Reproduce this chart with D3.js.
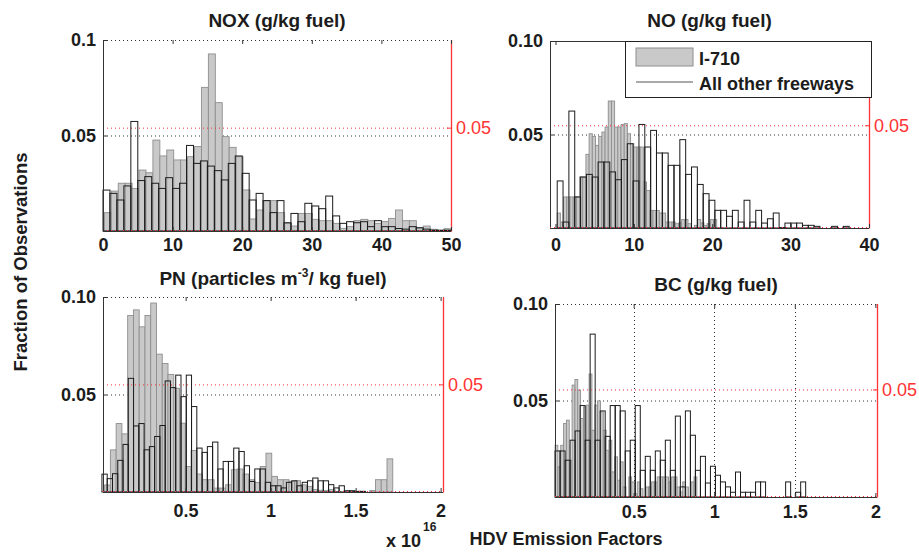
<!DOCTYPE html>
<html><head><meta charset="utf-8">
<script src="https://cdn.jsdelivr.net/npm/d3@7"></script>
<style>body{margin:0;background:#fff}svg{display:block}</style>
</head><body><svg id="c" width="919" height="552"></svg>
<script>
// ---------- DATA (fraction of observations per histogram bin) ----------
// NOX (g/kg fuel): I-710 on left axis, all other freeways on right axis
const noxI710 = [0.0096,0.0209,0.0250,0.0250,0.0223,0.0319,0.0305,0.0476,0.0393,0.0424,
 0.0372,0.0372,0.0389,0.0442,0.0752,0.0927,0.0672,0.0494,0.0438,0.0389,
 0.0215,0.0063,0.0110,0.0159,0.0159,0.0096,0.0040,0.0026,0.0092,0.0092,
 0.0061,0.0054,0.0054,0.0040,0.0014,0.0023,0.0054,0.0061,0.0054,0.0040,
 0.0049,0.0066,0.0110,0.0054,0.0054,0.0014,0.0026,0.0009,0,0.0012];
const noxOther = [0.0198,0.0182,0.0150,0.0218,0.0530,0.0244,0.0263,0.0231,0.0206,0.0258,
 0.0206,0.0231,0.0414,0.0327,0.0339,0.0314,0.0292,0.0247,0.0327,0.0363,
 0.0279,0.0150,0.0182,0.0147,0.0089,0.0147,0.0040,0.0085,0.0045,0.0134,
 0.0121,0.0108,0.0169,0.0073,0.0037,0.0045,0.0040,0.0045,0.0021,0.0050,
 0.0021,0.0021,0.0012,0.0009,0.0021,0.0016,0.0009,0.0004,0.0004,0.0004];
const noxI710Bin = [0.2, 0.996];   // [first bin edge, bin width]
const noxOtherBin = [0, 1];

// NO (g/kg fuel)
const noI710 = [0.0080,0.0032,0.0166,0.0166,0.0166,0.0166,0.0166,0.0273,0.0273,0.0394,
 0.0504,0.0490,0.0442,0.0490,0.0513,0.0540,0.0679,0.0679,0.0540,0.0540,
 0.0553,0.0558,0.0504,0.0451,0.0433,0.0433,0.0433,0.0246,0.0201,0.0094,
 0.0094,0.0094,0.0080,0.0080,0.0032,0.0032,0.0032,0.0023,0.0027,0.0045,
 0.0045,0.0023,0,0.0014,0.0045,0.0027,0.0014,0.0023,0.0045,0.0045];
const noOther = [0.0229,0.0029,0.0569,0.0151,0.0248,0.0261,0.0248,0.0321,0.0321,0.0273,
 0.0235,0.0333,0.0410,0.0229,0.0504,0.0394,0.0475,0.0365,0.0365,0.0305,
 0.0305,0.0430,0.0261,0.0297,0.0212,0.0167,0.0135,0.0086,0.0086,0.0057,
 0.0086,0.0029,0.0135,0.0029,0.0086,0.0024,0.0045,0.0073,0.0002,0.0024,
 0.0024,0.0024,0.0013,0.0013,0.0008,0,0,0.0008,0,0.0008];
const noI710Bin = [0.22, 0.407];
const noOtherBin = [0.22, 0.745];

// PN (x 10^16 particles / kg fuel)
const pnI710 = [0.0036,0.0216,0.0351,0.0298,0.0905,0.0934,0.0847,0.0905,0.0969,0.0707,
 0.0659,0.0603,0.0532,0.0353,0.0131,0.0213,0.0092,0.0063,0.0063,0.0020,
 0.0020,0.0037,0.0114,0.0118,0.0092,0.0063,0.0049,0.0131,0.0199,0.0080,
 0.0063,0.0063,0.0055,0.0058,0.0037,0.0029,0.0012,0.0009,0.0007,0.0012,
 0.0003,0,0,0.0003,0,0,0.0007,0.0063,0.0063,0.0170];
const pnOther = [0.0083,0.0062,0.0085,0.0147,0.0221,0.0528,0.0307,0.0318,0.0196,0.0211,
 0.0258,0.0309,0.0516,0.0485,0.0543,0.0443,0.0543,0.0397,0.0204,0.0184,
 0.0211,0.0232,0.0107,0.0142,0.0142,0.0204,0.0188,0.0122,0.0049,0.0107,
 0.0107,0.0045,0.0029,0.0029,0.0019,0.0045,0.0052,0.0029,0.0045,0.0052,
 0.0065,0.0052,0.0052,0.0034,0.0019,0.0029,0.0006,0.0006,0.0003,0.0003];
const pnI710Bin = [0.0235, 0.0339];
const pnOtherBin = [0.0078, 0.031];

// BC (g/kg fuel)
const bcI710 = [0.0268,0.0156,0.0268,0.0381,0.0398,0.0190,0.0580,0.0609,0.0554,0.0407,
 0.0467,0.0476,0.0637,0.0346,0.0476,0.0498,0.0441,0.0346,0.0242,0.0294,
 0.0130,0.0208,0.0087,0.0182,0.0052,0,0.0104,0.0078,0.0017,0.0078,
 0.0043,0,0.0052,0.0052,0.0078,0.0078,0.0104,0.0104,0.0104,0.0104,
 0.0078,0.0104,0.0104,0.0052,0.0026,0.0078,0.0052,0,0.0078,0.0104];
const bcOther = [0.0214,0.0214,0.0171,0.0264,0.0307,0.0425,0.0264,0.0757,0.0264,0.0400,
 0.0282,0.0425,0.0425,0.0400,0.0214,0.0264,0.0425,0.0124,0.0189,0.0124,
 0.0214,0.0171,0.0264,0.0124,0.0376,0.0047,0.0400,0.0287,0.0124,0.0189,
 0.0065,0.0143,0.0101,0.0070,0.0047,0.0022,0.0116,0.0022,0.0022,0.0022,
 0.0070,0.0070,0,0,0,0,0.0070,0,0.0022,0.0070];
const bcI710Bin = [0.0124, 0.0176];
const bcOtherBin = [0.0124, 0.0311];

// tick values / labels
const noxXTicks = [0,10,20,30,40,50];
const noXTicks = [0,10,20,30,40];
const pnXTicks = [0.5,1,1.5,2];
const bcXTicks = [0.5,1,1.5,2];
const yTicks = [0.05, 0.1];
const yLabelsA = ['0.05','0.1'];
const yLabelsB = ['0.05','0.10'];
const rightTicks = [0.05];
const legendLabels = ['I-710','All other freeways'];

// ---------- LAYOUT ----------
const FONT = '"Liberation Sans", Arial, Helvetica, sans-serif';
const RED = '#ff3333', INK = '#1c1c1c', AX = '#333';
const panels = [
 {title:'NOX (g/kg fuel)', l:103, r:451, t:40, b:231, xDom:[0,50], xTicks:noxXTicks, yLab:yLabelsA,
  rMax:0.0924, g:noxI710, gBin:noxI710Bin, o:noxOther, oBin:noxOtherBin, titleY:27, xPad:7, topDot:true, xGrid:false},
 {title:'NO (g/kg fuel)', l:550, r:869, t:41, b:228, xDom:[-0.7,40], xTicks:noXTicks, yLab:yLabelsB,
  rMax:0.091, g:noI710, gBin:noI710Bin, o:noOther, oBin:noOtherBin, titleY:27, xPad:10, topDot:false, xGrid:false},
 {title:'PN', l:103, r:443, t:297, b:492, xDom:[0.014,2.014], xTicks:pnXTicks, yLab:yLabelsB,
  rMax:0.0906, g:pnI710, gBin:pnI710Bin, o:pnOther, oBin:pnOtherBin, titleY:285, xPad:12, topDot:true, xGrid:false},
 {title:'BC (g/kg fuel)', l:555, r:877, t:304, b:497, xDom:[0.012,2.01], xTicks:bcXTicks, yLab:yLabelsB,
  rMax:0.0897, g:bcI710, gBin:bcI710Bin, o:bcOther, oBin:bcOtherBin, titleY:291, xPad:8.5, topDot:true, xGrid:true}
];

const svg = d3.select('#c');
const toBars = (vals, bin) => vals.map((v,i)=>({v, a:bin[0]+i*bin[1], c:bin[0]+(i+1)*bin[1]})).filter(d=>d.v>0);
const hline = (g, x1, x2, y, col, dash, w) => g.append('line').attr('x1',x1).attr('x2',x2).attr('y1',y).attr('y2',y)
  .attr('stroke',col).attr('stroke-width',w||1).attr('stroke-dasharray',dash||null);
const vline = (g, x, y1, y2, col, dash, w) => g.append('line').attr('x1',x).attr('x2',x).attr('y1',y1).attr('y2',y2)
  .attr('stroke',col).attr('stroke-width',w||1).attr('stroke-dasharray',dash||null);

panels.forEach(p => {
  const g = svg.append('g');
  const x = d3.scaleLinear().domain(p.xDom).range([p.l, p.r]);
  const yL = d3.scaleLinear().domain([0,0.1]).range([p.b, p.t]);
  const yR = d3.scaleLinear().domain([0,p.rMax]).range([p.b, p.t]);

  // black dotted grids (left axis)
  hline(g, p.l, p.r, yL(0.05)+0.5, AX, '1,3');
  if (p.xGrid) p.xTicks.filter(d=>d<2).forEach(d => vline(g, Math.round(x(d))+0.5, p.t, p.b, AX, '1,3'));

  // I-710 (gray filled)
  g.append('g').selectAll('rect').data(toBars(p.g, p.gBin)).join('rect')
    .attr('x',d=>x(d.a)).attr('width',d=>x(d.c)-x(d.a))
    .attr('y',d=>yL(d.v)).attr('height',d=>yL(0)-yL(d.v))
    .attr('fill','#c9c9c9').attr('stroke','#8e8e8e').attr('stroke-width',0.9);

  // red dotted grid (right axis)
  hline(g, p.l, p.r, yR(0.05)+0.5, RED, '1,3');

  // All other freeways (black outline)
  g.append('g').selectAll('rect').data(toBars(p.o, p.oBin)).join('rect')
    .attr('x',d=>x(d.a)).attr('width',d=>x(d.c)-x(d.a))
    .attr('y',d=>yR(d.v)).attr('height',d=>yR(0)-yR(d.v))
    .attr('fill','none').attr('stroke',INK).attr('stroke-width',1);

  const styleAxis = (ax, col, weight) => {
    ax.attr('font-family',FONT).attr('font-size',18).attr('font-weight',weight).style('color',col);
    ax.select('.domain').remove();
    ax.selectAll('line').attr('stroke',col);
  };

  // frame lines
  vline(g, p.l+0.5, p.t, p.b+0.5, AX, null, 1);
  hline(g, p.l, p.r, p.b+0.5, AX, null, 1);
  hline(g, p.l, p.r, p.b-0.5, RED, '1,3', 1);
  hline(g, p.l, p.r, p.t+0.5, AX, p.topDot ? '1,3' : null, 1);
  vline(g, p.r+0.5, p.t, p.b+0.5, RED, null, 1.3);

  // top ticks
  const top = g.append('g').attr('transform',`translate(0,${p.t})`)
    .call(d3.axisTop(x).tickValues(p.xTicks).tickSize(-4).tickSizeOuter(0).tickFormat(''));
  styleAxis(top, AX, 'bold');

  // bottom axis
  const bot = g.append('g').attr('transform',`translate(0,${p.b})`)
    .call(d3.axisBottom(x).tickValues(p.xTicks).tickSize(-4).tickSizeOuter(0).tickPadding(p.xPad).tickFormat(d=>String(d)));
  styleAxis(bot, AX, 'bold');
  bot.selectAll('text').attr('fill',INK);

  // left axis
  const left = g.append('g').attr('transform',`translate(${p.l},0)`)
    .call(d3.axisLeft(yL).tickValues(yTicks).tickSize(-4).tickSizeOuter(0).tickPadding(7).tickFormat((d,i)=>p.yLab[i]));
  styleAxis(left, AX, 'bold');
  left.selectAll('text').attr('fill',INK);

  // right axis (red)
  const right = g.append('g').attr('transform',`translate(${p.r},0)`)
    .call(d3.axisRight(yR).tickValues(rightTicks).tickSize(-4).tickSizeOuter(0).tickPadding(5).tickFormat(d3.format('.2f')));
  styleAxis(right, RED, 'normal');

  // title
  const tt = g.append('text').attr('x',(p.l+p.r)/2).attr('y',p.titleY).attr('text-anchor','middle')
    .attr('font-family',FONT).attr('font-size',19).attr('font-weight','bold').attr('fill',INK);
  if (p.title === 'PN') {
    tt.append('tspan').text('PN (particles m');
    tt.append('tspan').attr('font-size',12).attr('dy',-8).text('-3');
    tt.append('tspan').attr('dy',8).text('/ kg fuel)');
  } else tt.text(p.title);
});

// legend (in NO panel)
const lg = svg.append('g');
lg.append('rect').attr('x',625.5).attr('y',41.5).attr('width',246).attr('height',56)
  .attr('fill','#fff').attr('stroke','#222').attr('stroke-width',1);
lg.append('rect').attr('x',636).attr('y',48).attr('width',57).attr('height',18)
  .attr('fill','#c9c9c9').attr('stroke','#8e8e8e');
lg.append('line').attr('x1',636).attr('x2',693).attr('y1',82).attr('y2',82).attr('stroke','#555').attr('stroke-width',1);
lg.selectAll('text').data(legendLabels).join('text')
  .attr('x',699).attr('y',(d,i)=>i===0?65:90).text(d=>d)
  .attr('font-family',FONT).attr('font-size',18).attr('font-weight','bold').attr('fill',INK);

// axis labels
svg.append('text').attr('transform','translate(27,262) rotate(-90)').attr('text-anchor','middle')
  .attr('font-family',FONT).attr('font-size',18.5).attr('font-weight','bold').attr('fill',INK)
  .text('Fraction of Observations');
svg.append('text').attr('x',566).attr('y',545).attr('text-anchor','middle')
  .attr('font-family',FONT).attr('font-size',18).attr('font-weight','bold').attr('fill',INK)
  .text('HDV Emission Factors');
svg.append('text').attr('x',386).attr('y',547)
  .attr('font-family',FONT).attr('font-size',18).attr('font-weight','bold').attr('fill',INK)
  .text('x 10');
svg.append('text').attr('x',423).attr('y',531)
  .attr('font-family',FONT).attr('font-size',12).attr('font-weight','bold').attr('fill',INK)
  .text('16');
</script></body></html>
